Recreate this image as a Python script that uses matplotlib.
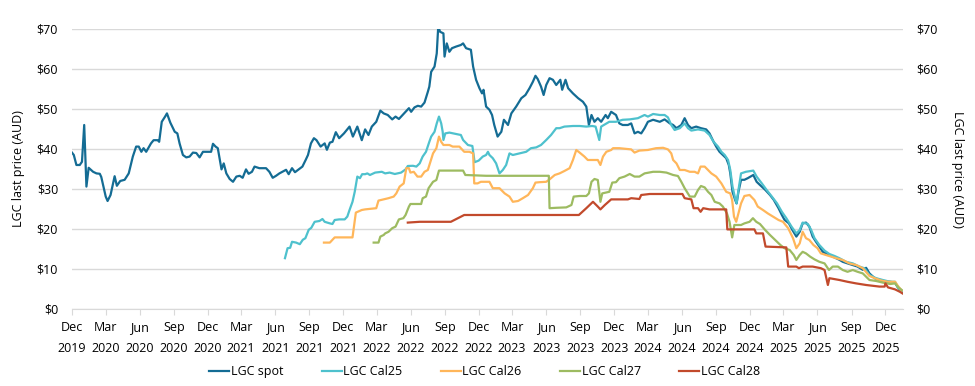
import matplotlib
matplotlib.use("Agg")
import matplotlib.pyplot as plt
import matplotlib.dates as mdates
import pandas as pd

spot_dates = ["2019-12-01","2019-12-06","2019-12-13","2019-12-22","2019-12-28","2020-01-03","2020-01-09","2020-01-15","2020-01-27","2020-02-05","2020-02-14","2020-02-18","2020-02-24","2020-03-01","2020-03-06","2020-03-14","2020-03-25","2020-03-31","2020-04-09","2020-04-21","2020-05-02","2020-05-13","2020-05-22","2020-05-29","2020-06-05","2020-06-11","2020-06-18","2020-07-01","2020-07-08","2020-07-19","2020-07-23","2020-07-30","2020-08-08","2020-08-13","2020-08-22","2020-09-03","2020-09-10","2020-09-16","2020-09-25","2020-10-04","2020-10-13","2020-10-22","2020-10-31","2020-11-09","2020-11-18","2020-11-27","2020-12-10","2020-12-15","2020-12-22","2020-12-28","2021-01-07","2021-01-13","2021-01-20","2021-01-29","2021-02-07","2021-02-16","2021-02-25","2021-03-05","2021-03-14","2021-03-21","2021-03-30","2021-04-06","2021-04-19","2021-05-07","2021-05-16","2021-05-25","2021-06-03","2021-06-12","2021-06-30","2021-07-07","2021-07-16","2021-07-24","2021-08-03","2021-08-13","2021-08-22","2021-08-28","2021-09-05","2021-09-13","2021-09-20","2021-10-01","2021-10-12","2021-10-18","2021-10-26","2021-11-02","2021-11-11","2021-11-20","2021-12-03","2021-12-18","2021-12-27","2022-01-08","2022-01-20","2022-01-29","2022-02-07","2022-02-16","2022-02-28","2022-03-11","2022-03-20","2022-03-31","2022-04-12","2022-04-21","2022-04-30","2022-05-14","2022-05-27","2022-06-02","2022-06-11","2022-06-20","2022-06-29","2022-07-08","2022-07-17","2022-07-21","2022-07-26","2022-08-04","2022-08-10","2022-08-14","2022-08-19","2022-08-28","2022-08-31","2022-09-06","2022-09-13","2022-09-20","2022-10-01","2022-10-14","2022-10-20","2022-10-28","2022-11-10","2022-11-16","2022-11-24","2022-12-03","2022-12-10","2022-12-14","2022-12-21","2022-12-30","2023-01-06","2023-01-12","2023-01-21","2023-01-31","2023-02-07","2023-02-18","2023-02-27","2023-03-12","2023-03-26","2023-04-06","2023-04-17","2023-04-26","2023-05-03","2023-05-09","2023-05-18","2023-05-25","2023-06-01","2023-06-10","2023-06-19","2023-06-28","2023-07-09","2023-07-14","2023-07-23","2023-07-30","2023-08-12","2023-08-26","2023-09-08","2023-09-17","2023-09-24","2023-10-01","2023-10-09","2023-10-18","2023-10-27","2023-11-08","2023-11-14","2023-11-23","2023-12-06","2023-12-15","2023-12-24","2024-01-07","2024-01-16","2024-01-25","2024-02-03","2024-02-12","2024-02-21","2024-03-01","2024-03-15","2024-04-02","2024-04-15","2024-04-29","2024-05-08","2024-05-17","2024-05-30","2024-06-08","2024-06-17","2024-06-26","2024-07-09","2024-07-22","2024-08-05","2024-08-14","2024-08-25","2024-09-01","2024-09-10","2024-09-19","2024-09-28","2024-10-05","2024-10-09","2024-10-15","2024-10-22","2024-10-26","2024-10-31","2024-11-07","2024-11-16","2024-11-25","2024-12-10","2024-12-19","2024-12-28","2025-01-11","2025-01-24","2025-02-03","2025-02-16","2025-02-25","2025-03-04","2025-03-16","2025-03-25","2025-04-05","2025-04-14","2025-04-22","2025-05-01","2025-05-10","2025-05-19","2025-05-28","2025-06-06","2025-06-15","2025-06-24","2025-07-03","2025-07-12","2025-07-21","2025-07-30","2025-08-08","2025-08-21","2025-09-04","2025-09-17","2025-10-01","2025-10-10","2025-10-19","2025-11-02","2025-11-15","2025-11-29","2025-12-14","2025-12-27","2026-01-02","2026-01-09","2026-01-16"]
spot_values = [39.1,38.5,36,36,36.8,46,30.6,35.3,34.3,33.9,33.8,33,30.6,28.1,27,28.5,33.2,30.8,32,32.3,33.9,38.1,40.6,40.6,39.3,40.2,39.3,41.4,42.2,42.2,41.8,46.8,48.1,48.9,46.6,44.3,43.9,41.4,38.5,37.9,38.1,39.1,39,37.9,39.3,39.3,39.3,41.3,40.6,40.2,34.9,36.4,33.9,32.5,31.8,33.1,33.3,32.8,34.9,33.8,34.3,35.6,35.2,35.2,34.3,32.8,33.3,33.9,34.8,33.7,35.2,34.2,34.9,35.6,37.3,38.5,41.4,42.7,42.2,40.6,41.4,39.8,41.6,41.8,44.2,42.7,43.9,45.6,43.1,45.6,42.2,44.9,43.5,45.6,46.8,49.6,48.9,48.5,47.4,48.1,47.5,48.9,50.2,49.3,50.4,50.8,50.6,51.6,54.3,55.6,59.3,60.6,63.9,70.6,69.3,68.9,63.1,66.4,64.3,65.2,65.6,66,66.4,65.2,64.8,60.6,57.3,55.2,53.9,54.8,50.6,49.8,48.5,46,43.1,44.3,47.3,46,48.9,50.6,52.7,53.5,55.2,56.8,58.3,57.5,55.6,53.5,56,57.7,57.3,56,57.3,54.8,57.3,55.2,53.9,52.7,51.8,50.6,46,48.5,46.8,47.7,46.8,48.5,47.7,49.3,48.5,46.4,46,46,46.4,43.9,44.3,43.9,45.2,46.8,47.3,46.8,47.4,46.4,46,45.2,46,47.7,46,45.2,45.6,45.2,44.9,43.9,41.8,40.6,39.3,38.5,37.7,36,33.9,29.3,27.3,26.4,29.3,32.3,32.3,32.7,33.5,31.8,31,29.8,28.5,27.3,25.2,23.5,22.3,21.4,19.8,18.1,19.3,21.4,21.6,20.6,18.1,16.8,15.6,14.3,13.9,13.5,13.1,12.7,12.3,11.8,11.4,11,10.6,9.8,10.3,8.9,7.7,7.3,6.8,6.8,6.6,5.6,4.8,4.1]

cal25_dates = ["2021-06-27","2021-07-04","2021-07-11","2021-07-16","2021-07-27","2021-08-06","2021-08-14","2021-08-21","2021-08-30","2021-09-06","2021-09-15","2021-09-28","2021-10-06","2021-10-12","2021-10-26","2021-11-02","2021-11-08","2021-11-20","2021-12-05","2021-12-12","2021-12-18","2021-12-26","2022-01-01","2022-01-08","2022-01-15","2022-01-21","2022-01-29","2022-02-04","2022-02-11","2022-02-25","2022-03-15","2022-03-24","2022-04-05","2022-04-19","2022-05-06","2022-05-18","2022-05-24","2022-06-07","2022-06-16","2022-06-25","2022-07-03","2022-07-12","2022-07-21","2022-07-26","2022-08-04","2022-08-10","2022-08-16","2022-08-22","2022-08-26","2022-08-28","2022-09-02","2022-09-13","2022-10-01","2022-10-14","2022-10-20","2022-11-02","2022-11-14","2022-11-20","2022-12-01","2022-12-12","2022-12-21","2022-12-26","2022-12-30","2023-01-08","2023-01-17","2023-01-26","2023-02-04","2023-02-13","2023-02-22","2023-03-03","2023-03-21","2023-04-08","2023-04-21","2023-05-05","2023-05-18","2023-06-01","2023-06-14","2023-06-28","2023-07-07","2023-07-20","2023-08-12","2023-08-30","2023-09-17","2023-10-03","2023-10-12","2023-10-22","2023-10-27","2023-11-18","2023-12-06","2023-12-24","2024-01-12","2024-02-03","2024-02-21","2024-03-01","2024-03-15","2024-04-02","2024-04-15","2024-04-24","2024-05-03","2024-05-12","2024-05-26","2024-06-08","2024-06-17","2024-06-26","2024-07-14","2024-08-01","2024-08-14","2024-08-25","2024-09-06","2024-09-15","2024-09-24","2024-10-03","2024-10-09","2024-10-15","2024-10-22","2024-10-26","2024-10-31","2024-11-07","2024-11-20","2024-12-10","2024-12-19","2025-01-02","2025-01-15","2025-01-29","2025-02-12","2025-02-25","2025-03-09","2025-03-23","2025-04-05","2025-04-14","2025-04-22","2025-05-06","2025-05-15","2025-05-24","2025-06-06","2025-06-20","2025-07-03","2025-07-17","2025-07-30","2025-08-17","2025-09-04","2025-09-22","2025-10-05","2025-10-19","2025-11-06","2025-11-24","2025-12-14","2025-12-27","2026-01-05","2026-01-14"]
cal25_values = [12.7,15.2,15.3,16.8,16.6,16.2,17.3,17.7,19.8,20.3,21.8,22,22.5,21.8,21.4,21.25,22.25,22.4,22.4,23.1,24.75,26.8,29.3,33.1,32.7,33.7,33.7,33.9,33.5,34.1,34.3,33.9,34.1,33.75,34.1,34.9,35.75,35.8,35.6,36.4,38.1,39.3,41.8,43.1,44.3,46.4,48.1,46.4,44.3,42.25,43.9,44.1,43.75,43.5,42.25,41,40.75,36.7,37.1,38.1,38.5,39.3,38.5,37.7,36.4,33.9,34.75,36,38.9,38.5,38.9,39.3,40.2,40.4,41,42.25,43.5,45.2,45.2,45.6,45.75,45.75,45.6,45.75,45.6,42.25,45.6,46.8,46.8,47.3,47.4,47.7,48.5,48.1,48.75,48.5,48.5,47.9,46,44.75,45.2,46.4,45.2,44.6,44.9,44.6,43.5,41.8,40.6,39.3,38.5,37.25,34.75,30.6,27.7,26.4,29.75,33.9,34.3,34.6,33.1,31.4,29.75,28.1,26.4,24.3,22.7,20.6,18.9,19.75,21.6,21.25,19.75,17.7,16,14.6,13.75,13.25,12.7,11.8,11.4,10.6,10.2,8.5,7.7,7.25,6.8,6.8,5.2,4.3]

cal26_dates = ["2021-10-10","2021-10-26","2021-11-08","2021-12-26","2022-01-04","2022-01-20","2022-01-29","2022-02-28","2022-03-06","2022-03-20","2022-04-02","2022-04-16","2022-04-23","2022-05-02","2022-05-13","2022-05-20","2022-05-27","2022-05-31","2022-06-09","2022-06-19","2022-06-29","2022-07-08","2022-07-17","2022-07-31","2022-08-09","2022-08-16","2022-08-22","2022-08-28","2022-09-13","2022-09-22","2022-10-10","2022-10-23","2022-11-06","2022-11-16","2022-11-19","2022-11-28","2022-12-07","2022-12-30","2023-01-08","2023-01-26","2023-02-09","2023-02-22","2023-03-03","2023-03-17","2023-03-30","2023-04-13","2023-04-26","2023-05-03","2023-05-14","2023-06-01","2023-06-10","2023-06-24","2023-07-07","2023-07-20","2023-08-03","2023-08-12","2023-08-21","2023-08-30","2023-09-12","2023-09-21","2023-10-18","2023-10-25","2023-11-01","2023-11-10","2023-11-23","2023-11-28","2023-12-15","2024-01-16","2024-01-25","2024-02-07","2024-03-01","2024-03-23","2024-04-11","2024-04-24","2024-05-03","2024-05-08","2024-05-17","2024-05-26","2024-06-08","2024-06-22","2024-07-05","2024-07-14","2024-07-21","2024-08-01","2024-08-10","2024-08-19","2024-09-01","2024-09-15","2024-09-28","2024-10-09","2024-10-14","2024-10-19","2024-10-25","2024-10-31","2024-11-07","2024-11-16","2024-11-30","2024-12-13","2024-12-22","2025-01-05","2025-01-18","2025-02-01","2025-02-16","2025-02-28","2025-03-14","2025-03-27","2025-04-05","2025-04-14","2025-04-22","2025-05-01","2025-05-10","2025-05-21","2025-06-01","2025-06-10","2025-06-24","2025-07-08","2025-07-21","2025-08-08","2025-08-26","2025-09-13","2025-10-01","2025-10-19","2025-11-02","2025-11-20","2025-12-08","2025-12-27","2026-01-05","2026-01-14"]
cal26_values = [16.6,16.6,17.9,17.9,24.1,24.75,24.9,25.2,27.1,27.4,27.7,28.1,28.9,30.6,31.4,35.2,35.2,34.1,34.3,33.1,33.1,34.3,34.75,38.9,40.2,43.1,41.8,41,41,40.6,40.6,39.3,39.3,38.9,31.4,31.4,31.8,31.8,30.2,30.2,28.9,28.1,26.8,27,27.7,28.5,30.2,31.6,31.7,31.8,32.4,33.5,33.9,34.5,35.2,37.25,39.75,39.1,38.1,37.25,37.25,36,38.1,39.3,39.75,40.2,40.2,39.9,39.1,39.6,39.75,40.2,40.3,39.9,38.9,37.25,36.4,34.75,34.75,34.3,34.3,33.9,35.6,35.6,34.75,33.9,33.1,31.4,29.3,28.9,27.25,23.1,21.8,23.9,26.4,28.25,28.5,27.25,25.6,24.75,23.9,23.1,22.25,21.8,20.2,17.7,15.2,16.4,19.3,17.7,17.25,16,15.2,13.9,13.5,13.1,12.7,12.25,11.4,11,10.2,8.25,7.7,7.1,6.8,6.8,5.6,4.6]

cal27_dates = ["2022-02-21","2022-03-06","2022-03-11","2022-03-20","2022-03-24","2022-04-02","2022-04-12","2022-04-21","2022-04-30","2022-05-12","2022-05-18","2022-05-27","2022-05-31","2022-06-29","2022-07-03","2022-07-12","2022-07-19","2022-07-31","2022-08-09","2022-08-16","2022-10-20","2022-10-26","2022-12-21","2023-06-08","2023-06-10","2023-06-28","2023-07-25","2023-08-08","2023-08-14","2023-08-30","2023-09-17","2023-09-24","2023-10-01","2023-10-09","2023-10-18","2023-10-25","2023-10-30","2023-11-18","2023-11-26","2023-12-06","2023-12-15","2023-12-29","2024-01-12","2024-01-25","2024-02-07","2024-02-21","2024-03-15","2024-04-02","2024-04-20","2024-05-08","2024-05-21","2024-05-30","2024-06-08","2024-06-22","2024-07-05","2024-07-14","2024-07-22","2024-08-01","2024-08-10","2024-08-19","2024-08-28","2024-09-10","2024-09-19","2024-09-30","2024-10-07","2024-10-14","2024-10-20","2024-11-07","2024-11-16","2024-11-30","2024-12-09","2024-12-18","2024-12-28","2025-01-11","2025-01-24","2025-02-07","2025-02-21","2025-03-04","2025-03-18","2025-03-29","2025-04-05","2025-04-14","2025-04-22","2025-05-01","2025-05-12","2025-05-24","2025-06-06","2025-06-20","2025-07-02","2025-07-12","2025-07-26","2025-08-08","2025-08-21","2025-09-04","2025-09-17","2025-10-01","2025-10-19","2025-11-06","2025-11-24","2025-12-14","2025-12-27","2026-01-05","2026-01-14"]
cal27_values = [16.6,16.6,18.1,18.5,18.9,19.3,20.2,20.6,22.4,22.7,23.5,25.6,26.25,26.25,27.7,28.1,30.2,31.8,32.25,34.6,34.6,33.5,33.3,33.3,25.2,25.3,25.4,26,28.1,28.25,28.25,28.9,31.8,32.5,32.25,26.8,28.9,29.3,31.6,31.7,32.7,33.1,33.75,33.1,33.1,33.9,34.3,34.3,34.1,33.5,33.25,31.8,30.2,28.1,28.1,29.75,30.75,30.4,29.3,28.5,26.8,26.4,25.6,23.9,21.8,17.9,21,21,21.4,21.8,22.7,21.8,21.25,19.75,18.5,17.25,16,15.2,14.75,13.5,12.25,13.5,14.3,13.9,13.1,12.4,11.8,11.4,9.75,10.6,10.6,9.75,9.3,9.75,9.3,8.9,7.25,7,6.6,6.25,6.4,5.4,4.75]

cal28_dates = ["2022-05-24","2022-06-25","2022-09-17","2022-10-23","2023-08-28","2023-09-17","2023-10-05","2023-10-18","2023-10-25","2023-11-06","2023-11-23","2024-01-07","2024-01-16","2024-02-07","2024-02-12","2024-03-06","2024-06-02","2024-06-08","2024-06-26","2024-07-02","2024-07-14","2024-07-21","2024-07-28","2024-08-14","2024-09-28","2024-10-01","2024-12-13","2024-12-18","2025-01-05","2025-01-12","2025-03-09","2025-03-14","2025-04-05","2025-04-12","2025-04-22","2025-05-19","2025-06-10","2025-06-20","2025-06-29","2025-07-03","2025-07-30","2025-08-21","2025-09-13","2025-10-10","2025-11-15","2025-11-29","2025-12-01","2025-12-08","2025-12-27","2026-01-09","2026-01-16"]
cal28_values = [21.6,21.8,21.8,23.5,23.5,25.2,26.8,25.6,24.9,26,27.4,27.4,27.7,27.5,28.5,28.75,28.75,27.7,27.4,25.2,25.2,24.3,25.2,24.9,24.9,19.9,19.9,18.9,18.9,15.6,15.4,10.6,10.6,10.2,10.6,10.6,10.2,9.75,6,7.7,7.25,6.8,6.4,6,5.6,5.6,6.4,5.4,4.9,4.3,3.9]

series_names = ["LGC spot", "LGC Cal25", "LGC Cal26", "LGC Cal27", "LGC Cal28"]
series_colors = ["#146c94", "#4ec1cd", "#ffb65a", "#9dbb61", "#c24a2c"]
y_ticks = [0, 10, 20, 30, 40, 50, 60, 70]
y_label = "LGC last price (AUD)"

plt.rcParams['font.family'] = ['Open Sans', 'DejaVu Sans']
fig = plt.figure(figsize=(9.75, 3.86), dpi=100)
ax = fig.add_axes([0.0738, 0.1995, 0.8522, 0.7254])

all_series = [(spot_dates, spot_values), (cal25_dates, cal25_values), (cal26_dates, cal26_values),
              (cal27_dates, cal27_values), (cal28_dates, cal28_values)]
for (d, v), name, c in zip(all_series, series_names, series_colors):
    ax.plot(pd.to_datetime(d), v, color=c, lw=1.6, label=name, solid_joinstyle='round')

ax.set_xlim(pd.Timestamp("2019-12-01"), pd.Timestamp("2026-01-17"))
ax.set_ylim(0, 70)
ax.set_yticks(y_ticks)
ax.set_yticklabels([f"${t}" for t in y_ticks])
ax.grid(axis='y', color='#d9d9d9', lw=1)
ax.set_axisbelow(True)
for s in ['top', 'left', 'right']:
    ax.spines[s].set_visible(False)
ax.spines['bottom'].set_color('#d9d9d9')
ax.xaxis.set_major_locator(mdates.MonthLocator(bymonth=[3, 6, 9, 12], bymonthday=1))
ax.xaxis.set_major_formatter(mdates.DateFormatter("%b\n%Y"))
ax.tick_params(axis='x', length=4, color='#d9d9d9', labelsize=9, pad=5, labelcolor='#000000')
for lab in ax.get_xticklabels():
    lab.set_linespacing(1.75)
ax.tick_params(axis='y', length=0, labelsize=9, pad=10)
ax.set_ylabel(y_label, fontsize=9, labelpad=8)

ax2 = ax.twinx()
ax2.set_ylim(0, 70)
ax2.set_yticks(y_ticks)
ax2.set_yticklabels([f"${t}" for t in y_ticks])
ax2.tick_params(axis='y', length=0, labelsize=9, pad=9.5)
for s in ['top', 'left', 'right', 'bottom']:
    ax2.spines[s].set_visible(False)
ax2.set_ylabel(y_label, fontsize=9, rotation=270, labelpad=19)

handles, labels = ax.get_legend_handles_labels()
fig.legend(handles, labels, loc='center', bbox_to_anchor=(0.497, 0.037), ncol=5, frameon=False,
           fontsize=9, handlelength=1.6, handletextpad=0.1, columnspacing=3.1)

fig.savefig("out.png", dpi=100)
